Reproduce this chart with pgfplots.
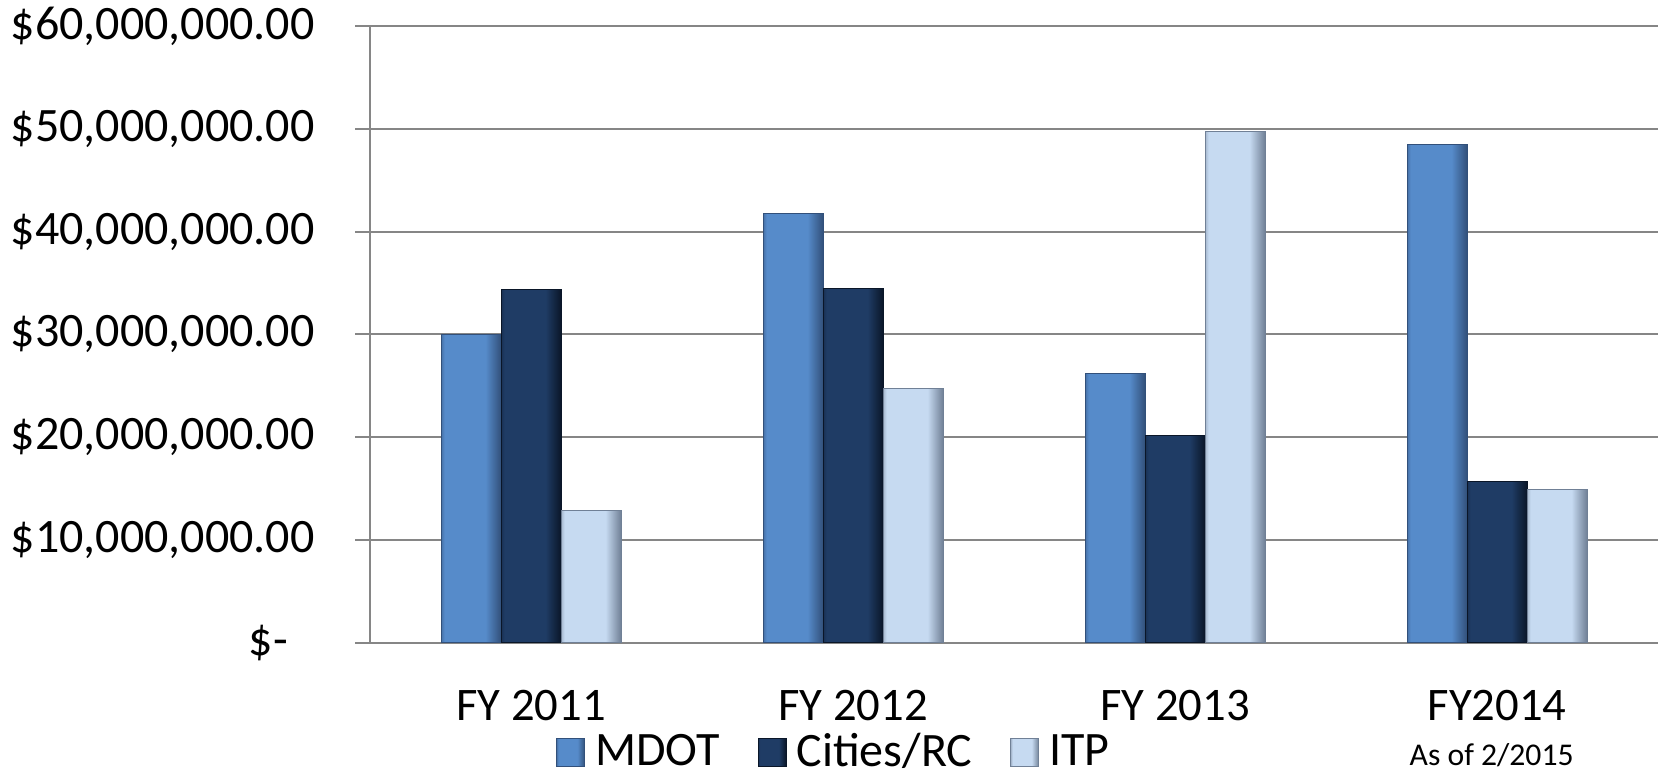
\documentclass[border=0pt]{standalone}
\usepackage{fontspec}
\setmainfont{Carlito}
\usepackage{pgfplots}
\pgfplotsset{compat=1.18}
\definecolor{mdot}{RGB}{86,139,202}
\definecolor{mdotd}{RGB}{50,80,122}
\definecolor{mdotl}{RGB}{70,112,165}
\definecolor{city}{RGB}{31,60,101}
\definecolor{cityd}{RGB}{10,22,40}
\definecolor{cityl}{RGB}{25,48,82}
\definecolor{itp}{RGB}{198,218,241}
\definecolor{itpd}{RGB}{112,128,150}
\definecolor{itpl}{RGB}{165,182,204}
\definecolor{gridc}{RGB}{134,134,134}
\pgfdeclarehorizontalshading{mdotsh}{100bp}{color(0bp)=(mdotl); color(25bp)=(mdotl); color(28bp)=(mdot); color(62bp)=(mdot); color(75bp)=(mdotd); color(100bp)=(mdotd)}
\pgfdeclarehorizontalshading{citysh}{100bp}{color(0bp)=(cityl); color(25bp)=(cityl); color(28bp)=(city); color(62bp)=(city); color(75bp)=(cityd); color(100bp)=(cityd)}
\pgfdeclarehorizontalshading{itpsh}{100bp}{color(0bp)=(itpl); color(25bp)=(itpl); color(28bp)=(itp); color(62bp)=(itp); color(75bp)=(itpd); color(100bp)=(itpd)}
\begin{document}
\begin{tikzpicture}
\useasboundingbox (0,0) rectangle (500.1pt,231.3pt);
\begin{axis}[
  at={(111pt,38.55pt)}, anchor=south west,
  scale only axis, width=386.4pt, height=184.95pt,
  clip=false,
  xmin=-0.5, xmax=3.5, ymin=0, ymax=60,
  axis x line*=bottom, axis y line*=left,
  axis line style={gridc, line width=0.6pt},
  ybar, bar width=18pt,
  xtick={0,1,2,3},
  xticklabels={FY 2011, FY 2012, FY 2013, FY2014},
  major x tick style={draw=none},
  extra x ticks={0.5,1.5,2.5},
  extra x tick labels={},
  extra x tick style={grid=none, major tick length=4.5pt, tick style={gridc, line width=0.6pt}},
  ytick={0,10,20,30,40,50,60},
  yticklabels={{\$-\kern8pt\relax}, {\$10,000,000.00}, {\$20,000,000.00}, {\$30,000,000.00}, {\$40,000,000.00}, {\$50,000,000.00}, {\$60,000,000.00}},
  tick align=outside,
  major tick length=4.5pt,
  y tick style={gridc, line width=0.6pt},
  ymajorgrids, grid style={gridc, line width=0.6pt},
  tick label style={text=black},
  xticklabel style={font=\fontsize{14}{16}\selectfont, yshift=-6.3pt},
  yticklabel style={font=\fontsize{14.4}{16}\selectfont, xshift=-8.6pt},
  legend columns=3,
  legend style={at={(0.362,-0.178)}, anchor=center, draw=none, fill=none,
    font=\fontsize{14.4}{16}\selectfont,
    /tikz/every even column/.append style={column sep=9.4pt}},
  legend image code/.code={\path[#1] (0pt,-4.2pt) rectangle (8.4pt,4.2pt); \path (9.4pt,0pt);},
]
% MDOT
\addplot[forget plot, bar shift=-18pt, draw=mdotd, line width=0.3pt, shading=mdotsh] coordinates {(0,30.0)};
\addplot[forget plot, bar shift=-18pt, draw=mdotd, line width=0.3pt, shading=mdotsh] coordinates {(1,41.8)};
\addplot[forget plot, bar shift=-18pt, draw=mdotd, line width=0.3pt, shading=mdotsh] coordinates {(2,26.2)};
\addplot[forget plot, bar shift=-18pt, draw=mdotd, line width=0.3pt, shading=mdotsh] coordinates {(3,48.5)};
% Cities/RC
\addplot[forget plot, bar shift=0pt, draw=cityd, line width=0.3pt, shading=citysh] coordinates {(0,34.4)};
\addplot[forget plot, bar shift=0pt, draw=cityd, line width=0.3pt, shading=citysh] coordinates {(1,34.5)};
\addplot[forget plot, bar shift=0pt, draw=cityd, line width=0.3pt, shading=citysh] coordinates {(2,20.1)};
\addplot[forget plot, bar shift=0pt, draw=cityd, line width=0.3pt, shading=citysh] coordinates {(3,15.7)};
% ITP
\addplot[forget plot, bar shift=18pt, draw=itpd, line width=0.3pt, shading=itpsh] coordinates {(0,12.8)};
\addplot[forget plot, bar shift=18pt, draw=itpd, line width=0.3pt, shading=itpsh] coordinates {(1,24.7)};
\addplot[forget plot, bar shift=18pt, draw=itpd, line width=0.3pt, shading=itpsh] coordinates {(2,49.7)};
\addplot[forget plot, bar shift=18pt, draw=itpd, line width=0.3pt, shading=itpsh] coordinates {(3,14.9)};
\addlegendimage{draw=mdotd, line width=0.3pt, shading=mdotsh}
\addlegendentry{MDOT}
\addlegendimage{draw=cityd, line width=0.3pt, shading=citysh}
\addlegendentry{Cities/RC}
\addlegendimage{draw=itpd, line width=0.3pt, shading=itpsh}
\addlegendentry{ITP}
\node[anchor=base, font=\fontsize{9.5}{11}\selectfont, inner sep=0pt] at (axis cs:3,0) [xshift=-1.6pt, yshift=-36.75pt] {As of 2/2015};
\end{axis}
\end{tikzpicture}
\end{document}
